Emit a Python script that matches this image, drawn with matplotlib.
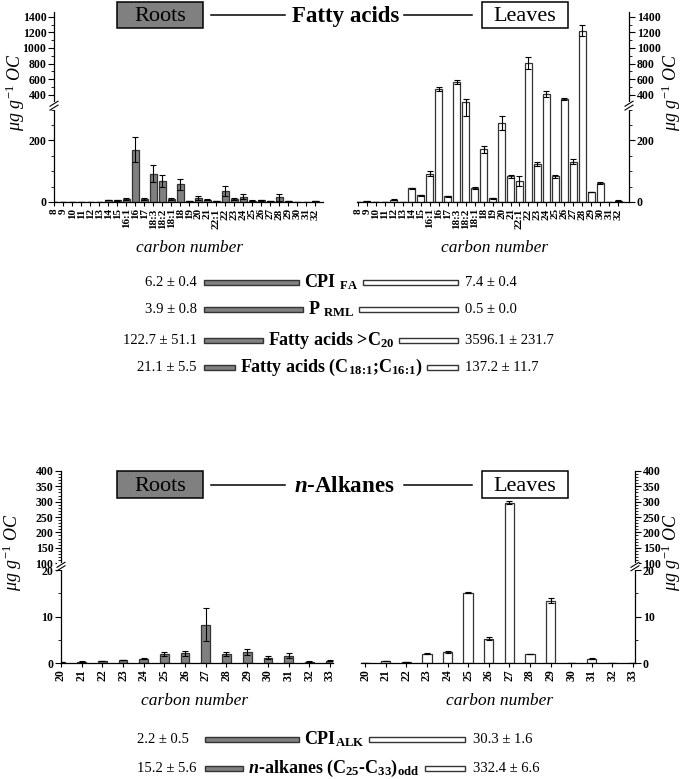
import numpy as np
import matplotlib
matplotlib.use('Agg')
import matplotlib.pyplot as plt
from matplotlib.patches import Rectangle
from matplotlib.ticker import FixedLocator

plt.rcParams['font.family'] = 'serif'
plt.rcParams['font.serif'] = ['Liberation Serif', 'DejaVu Serif']
plt.rcParams['mathtext.fontset'] = 'custom'
plt.rcParams['mathtext.rm'] = 'Liberation Serif'
plt.rcParams['mathtext.it'] = 'Liberation Serif:italic'
plt.rcParams['mathtext.bf'] = 'Liberation Serif:bold'
plt.rcParams['mathtext.bfit'] = 'Liberation Serif:bold:italic'

# fatty acids (ug g-1 OC)
fa_labels = ['8', '9', '10', '11', '12', '13', '14', '15', '16:1', '16', '17', '18:3', '18:2', '18:1',
             '18', '19', '20', '21', '22:1', '22', '23', '24', '25', '26', '27', '28', '29', '30', '31', '32']
fa_roots = [0, 0, 0, 0, 1, 0, 6, 5, 10, 170, 10, 92, 69, 10, 57, 2, 13, 8, 2, 36, 11, 17, 4, 6, 3, 15, 2, 1, 0, 2]
fa_roots_err = [0, 0, 0, 0, 0, 0, 1, 1, 2, 40, 2, 27, 20, 2, 17, 0, 5, 2, 0, 15, 3, 8, 1, 2, 1, 12, 0, 0, 0, 0]
fa_leaves = [0, 2, 0, 0, 8, 1, 44, 22, 92, 470, 18, 563, 310, 45, 171, 12, 256, 84, 68, 808, 124, 409, 84, 345,
             130, 1221, 32, 62, 0, 4]
fa_leaves_err = [0, 1, 0, 0, 2, 0, 3, 1, 7, 26, 1, 21, 30, 3, 11, 1, 22, 5, 17, 73, 6, 34, 5, 15, 8, 73, 1, 3, 0, 1]

# n-alkanes (ug g-1 OC)
alk_labels = ['20', '21', '22', '23', '24', '25', '26', '27', '28', '29', '30', '31', '32', '33']
alk_roots = [0.15, 0.3, 0.45, 0.65, 0.95, 1.9, 2.05, 8.25, 1.9, 2.35, 1.1, 1.55, 0.3, 0.5]
alk_roots_err = [0.05, 0.05, 0.05, 0.1, 0.15, 0.45, 0.5, 3.6, 0.45, 0.7, 0.3, 0.55, 0.05, 0.1]
alk_leaves = [0, 0.4, 0.2, 2.0, 2.35, 15.1, 5.25, 297, 1.9, 13.4, 0.05, 0.95, 0.05, 0]
alk_leaves_err = [0, 0.05, 0.05, 0.05, 0.25, 0.15, 0.35, 5, 0.05, 0.5, 0.05, 0.05, 0, 0]

# summary indices
fa_sum_labels = ['CPI $_{\\mathbf{FA}}$', 'P $_{\\mathbf{RML}}$', 'Fatty acids >C$_{\\mathbf{20}}$',
                 'Fatty acids (C$_{\\mathbf{18\\!:\\!1}}$;C$_{\\mathbf{16\\!:\\!1}}$)']
fa_sum_roots = ['6.2 ± 0.4', '3.9 ± 0.8', '122.7 ± 51.1', '21.1 ± 5.5']
fa_sum_leaves = ['7.4 ± 0.4', '0.5 ± 0.0', '3596.1 ± 231.7', '137.2 ± 11.7']
alk_sum_labels = ['CPI$_{\\mathbf{ALK}}$',
                  '$\\mathbfit{n}$-alkanes (C$_{\\mathbf{25}}$-C$_{\\mathbf{33}}$)$_{\\mathbf{odd}}$']
alk_sum_roots = ['2.2 ± 0.5', '15.2 ± 5.6']
alk_sum_leaves = ['30.3 ± 1.6', '332.4 ± 6.6']

W, H = 685, 779
fig = plt.figure(figsize=(W / 100, H / 100), dpi=100)

ROOT_FILL = '#808080'
EDGE = '#333333'


def px_axes(l, t, r, b):
    return fig.add_axes([l / W, 1 - b / H, (r - l) / W, (b - t) / H])


def broken(lo, hi, gap, ratio):
    def fwd(y):
        y = np.asarray(y, dtype=float)
        return np.where(y <= lo, y, np.where(y >= hi, lo + gap + (y - hi) * ratio,
                                             lo + (y - lo) * gap / (hi - lo)))

    def inv(t):
        t = np.asarray(t, dtype=float)
        return np.where(t <= lo, t, np.where(t >= lo + gap, hi + (t - lo - gap) / ratio,
                                             lo + (t - lo) * (hi - lo) / gap))
    return fwd, inv


def panel(rect, labels, vals, errs, side, xlim, ylim, scale, majors, minors, bw, xfs):
    ax = px_axes(*rect)
    x = np.arange(len(labels))
    if side == 'left':
        ax.bar(x, vals, bw, color=ROOT_FILL, edgecolor=EDGE, linewidth=0.9, zorder=2)
    else:
        ax.bar(x, vals, bw, color='white', edgecolor=EDGE, linewidth=0.9, zorder=2)
    ax.errorbar(x, vals, yerr=errs, fmt='none', ecolor='black', elinewidth=0.8,
                capsize=2, capthick=0.8, zorder=3)
    fwd, inv = broken(*scale)
    ax.set_yscale('function', functions=(fwd, inv))
    ax.set_ylim(*ylim)
    ax.set_xlim(*xlim)
    ax.set_xticks(x)
    ax.set_xticklabels(labels, rotation=90, fontweight='bold', fontsize=xfs)
    ax.yaxis.set_major_locator(FixedLocator(majors))
    ax.yaxis.set_minor_locator(FixedLocator(minors))
    ax.set_yticklabels([str(m) for m in majors], fontweight='bold', fontsize=8.5)
    ax.spines['top'].set_visible(False)
    other = 'right' if side == 'left' else 'left'
    ax.spines[other].set_visible(False)
    if side == 'right':
        ax.yaxis.tick_right()
    ax.tick_params(axis='y', which='major', length=4, width=0.8, pad=1.5)
    ax.tick_params(axis='y', which='minor', length=2, width=0.6)
    ax.tick_params(axis='x', length=3, width=0.8, pad=1.5)
    for s in ax.spines.values():
        s.set_linewidth(0.9)
    ax.patch.set_visible(False)
    # axis break mark on the y spine
    lo, hi, gap, ratio = scale
    t0 = fwd(ylim[0])
    t1 = fwd(ylim[1])
    f_lo = (lo - t0) / (t1 - t0)
    f_hi = (lo + gap - t0) / (t1 - t0)
    xs = 0 if side == 'left' else 1
    axw = (rect[2] - rect[0])
    axh = (rect[3] - rect[1])
    dx = 4 / axw
    dy = 2.5 / axh
    ax.add_patch(Rectangle((xs - dx, f_lo), 2 * dx, f_hi - f_lo, transform=ax.transAxes,
                           facecolor='white', edgecolor='none', clip_on=False, zorder=4))
    for f in (f_lo + 0.25 * (f_hi - f_lo), f_lo + 0.75 * (f_hi - f_lo)):
        ax.plot([xs - dx, xs + dx], [f - dy, f + dy], transform=ax.transAxes,
                color='black', lw=0.8, clip_on=False, zorder=5)
    return ax


fa_scale = (300, 310, 25, 0.253)
fa_major = [0, 200, 400, 600, 800, 1000, 1200, 1400]
fa_minor = [50, 100, 150, 250, 300, 500, 700, 900, 1100, 1300]
panel((54, 12.1, 323, 202), fa_labels, fa_roots, fa_roots_err, 'left', (-0.05, 29.85), (0, 1460),
      fa_scale, fa_major, fa_minor, 0.75, 8)
panel((357, 12.1, 629, 202), fa_labels, fa_leaves, fa_leaves_err, 'right', (-0.1, 30.2), (0, 1460),
      fa_scale, fa_major, fa_minor, 0.78, 8)

alk_scale = (20, 100, 1.5, 0.066)
alk_major = [0, 10, 20, 100, 150, 200, 250, 300, 350, 400]
alk_minor = [5, 15] + [v for v in range(110, 400, 10) if v % 50 != 0]
panel((61, 471, 333, 663), alk_labels, alk_roots, alk_roots_err, 'left', (0, 13.15), (0, 400),
      alk_scale, alk_major, alk_minor, 0.42, 8.5)
panel((361, 471, 635, 663), alk_labels, alk_leaves, alk_leaves_err, 'right', (-0.2, 13.1), (0, 400),
      alk_scale, alk_major, alk_minor, 0.45, 8.5)

# overlay in pixel coordinates for titles and summaries
ov = fig.add_axes([0, 0, 1, 1])
ov.set_xlim(0, W)
ov.set_ylim(H, 0)
ov.axis('off')
ov.patch.set_visible(False)


def title_row(y, top, bot, name, cx):
    ov.add_patch(Rectangle((117, top), 86, bot - top, facecolor=ROOT_FILL, edgecolor='black', lw=1.1))
    ov.text(160, y + 1, 'Roots', ha='center', va='center', fontsize=16)
    ov.add_patch(Rectangle((482, top), 86, bot - top, facecolor='white', edgecolor='black', lw=1.1))
    ov.text(525, y + 1, 'Leaves', ha='center', va='center', fontsize=16)
    ov.plot([211, 285], [y, y], color='black', lw=1.1)
    ov.plot([404, 472], [y, y], color='black', lw=1.1)
    ov.text(cx, y + 1, name, ha='center', va='center', fontsize=16.5, fontweight='bold')


title_row(15, 2, 28, 'Fatty acids', 346)
title_row(485, 471, 498, '$\\mathbfit{n}$-Alkanes', 344)

ylab = '$\\mu g\\ g^{-1}\\ OC$'
for (x, y) in [(15, 92), (671, 92), (12, 552), (671, 552)]:
    ov.text(x, y, ylab, rotation=90, ha='center', va='center', fontsize=13)
for (x, y) in [(190, 248), (495, 248), (195, 701), (500, 701)]:
    ov.text(x, y, 'carbon number', ha='center', va='center', fontsize=12.5, style='italic')

fig.canvas.draw()
renderer = fig.canvas.get_renderer()


def summary(rows_y, labels, lvals, rvals, cx, lx, lalign, bar_l, bar_r, rx):
    for y, lab, lv, rv in zip(rows_y, labels, lvals, rvals):
        t = ov.text(cx, y + 5, lab, ha='center', va='baseline', fontsize=13, fontweight='bold')
        ov.text(lx, y + 4, lv, ha=lalign, va='baseline', fontsize=10.5)
        ov.text(rx, y + 4, rv, ha='left', va='baseline', fontsize=10.5)
        bb = t.get_window_extent(renderer)
        x0, x1 = bb.x0, bb.x1
        ov.add_patch(Rectangle((bar_l, y - 2.5), max(x0 - 5 - bar_l, 0), 5,
                               facecolor=ROOT_FILL, edgecolor=EDGE, lw=1))
        ov.add_patch(Rectangle((x1 + 5, y - 2.5), max(bar_r - x1 - 5, 0), 5,
                               facecolor='white', edgecolor=EDGE, lw=1))


summary([282, 309, 340, 367], fa_sum_labels, fa_sum_roots, fa_sum_leaves, 331, 197, 'right', 204, 458, 465)
summary([739, 768], alk_sum_labels, alk_sum_roots, alk_sum_leaves, 334, 137, 'left', 205, 465, 473)

fig.savefig('out.png', dpi=100)
